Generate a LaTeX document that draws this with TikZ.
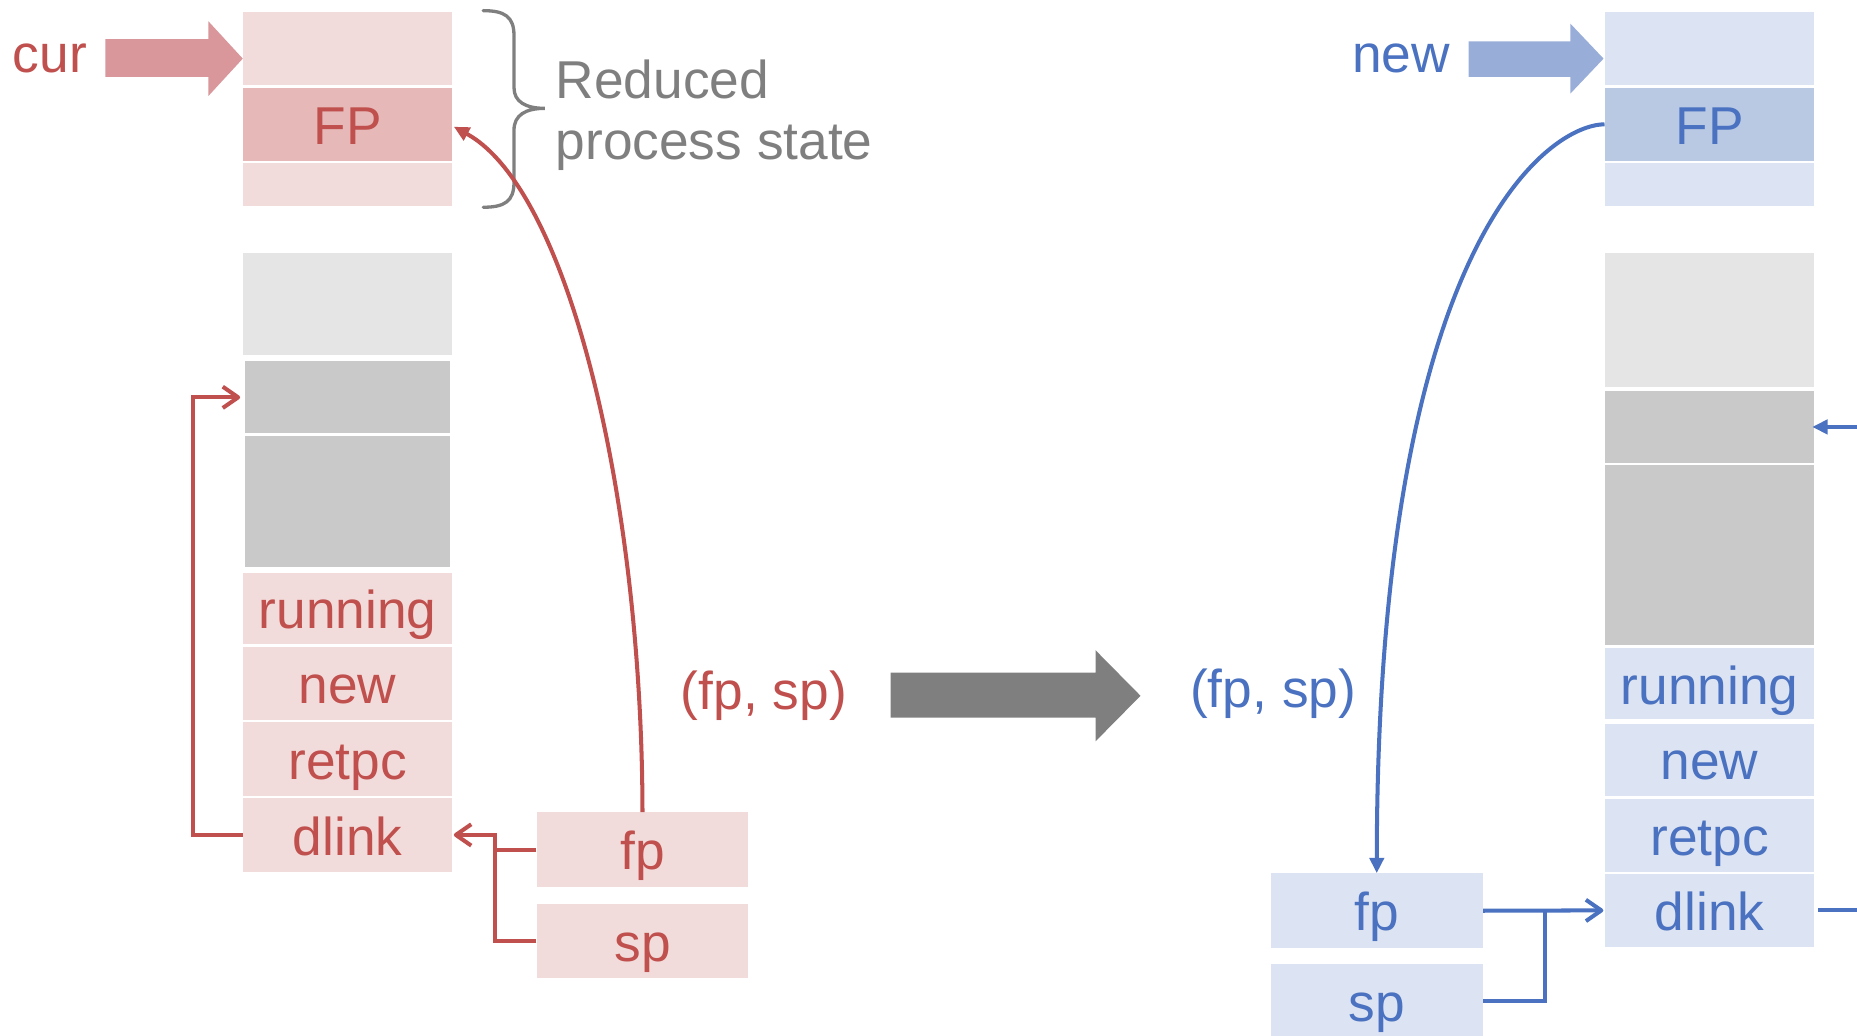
\documentclass[tikz,border=0pt]{standalone}
\usepackage{fontspec}
\setmainfont{Liberation Sans}
\usetikzlibrary{arrows.meta,calc}

\definecolor{redink}{HTML}{C0504D}
\definecolor{pinklt}{HTML}{F2DCDB}
\definecolor{pinkmd}{HTML}{E6B9B8}
\definecolor{pinkarrow}{HTML}{D9969B}
\definecolor{blueink}{HTML}{4A72C0}
\definecolor{bluelt}{HTML}{DCE3F2}
\definecolor{bluemd}{HTML}{B9C9E4}
\definecolor{bluearrow}{HTML}{98AED9}
\definecolor{graylt}{HTML}{E5E5E5}
\definecolor{graydk}{HTML}{C9C9C9}
\definecolor{grayink}{HTML}{7F7F7F}

\begin{document}
\begin{tikzpicture}[x=1pt,y=-1pt,
  txt/.style={font=\fontsize{45}{54}\selectfont, inner sep=0pt},
  cell/.style={txt, rectangle, minimum width=177pt, text height=44pt, text depth=10pt},
  blank/.style={text height=0pt, text depth=0pt},
  redcell/.style={cell, fill=pinklt, text=redink},
  bluecell/.style={cell, fill=bluelt, text=blueink},
  redline/.style={draw=redink, line width=3.4pt},
  blueline/.style={draw=blueink, line width=3.4pt},
  barbtip/.style={-{Straight Barb[length=13pt,width=18pt,line join=round]}},
  headtip/.style={-{Triangle[length=13pt,width=12pt]}}
]
\useasboundingbox (0,0) rectangle (1568,874);
\clip (0,0) rectangle (1568,874);

% ---------- current process (left) ----------
\node[redcell, blank, minimum height=62pt] (lA) at (293.5,41) {};
\node[redcell, fill=pinkmd, minimum height=62pt] (lFP) at (293.5,105) {FP};
\node[redcell, blank, minimum height=36pt] (lB) at (293.5,156) {};
\node[cell, blank, fill=graylt, minimum height=86pt] (lG1) at (293.5,257) {};
\node[cell, blank, fill=graydk, minimum width=173pt, minimum height=61pt] (lG2) at (293.5,335.5) {};
\node[cell, blank, fill=graydk, minimum width=173pt, minimum height=111pt] (lG3) at (293.5,423.5) {};
\node[redcell, minimum height=60pt] (lRun) at (293.5,514) {running};
\node[redcell, minimum height=62pt] (lNew) at (293.5,577) {new};
\node[redcell, minimum height=62pt] (lRet) at (293.5,641) {retpc};
\node[redcell, minimum height=62pt] (lDl) at (293.5,705) {dlink};
\node[redcell, minimum width=179pt, minimum height=63pt] (lfp) at (542.5,717.5) {fp};
\node[redcell, minimum width=179pt, minimum height=63pt] (lsp) at (542.5,794.5) {sp};

% pointer arrow "cur"
\node[txt, text=redink, anchor=base] (curlbl) at (42,61) {cur};
\fill[pinkarrow] (89,33) -- (176,33) -- (176,18) -- (205,49.5) -- (176,81) -- (176,65) -- (89,65) -- cycle;

% brace and its label
\draw[grayink, line width=2.8pt, line cap=round]
  (408,9) .. controls (426,9) and (434,14) .. (434,30) -- (434,74)
  .. controls (434,86) and (444,91.5) .. (460,91.5)
  .. controls (444,91.5) and (434,97) .. (434,110) -- (434,154)
  .. controls (434,170) and (426,175) .. (408,175);
\node[txt, text=grayink, anchor=base west] (lblA) at (469,83) {Reduced};
\node[txt, text=grayink, anchor=base west] (lblB) at (469,134.5) {process state};

% links of the current frame
\draw[redline, headtip] (lfp.north) .. controls (542,420) and (480,160) .. ($(lFP.east)+(1,2)$);
\draw[redline, barbtip, shorten >=4pt] (lDl.west) -- ++(-42,0) |- (lG2.west);
\coordinate (ljoin) at ($(lfp.west)+(-35,0)$);
\draw[redline, barbtip, shorten >=1pt] (lfp.west) -- (ljoin) |- (lDl.east);
\draw[redline] (lsp.west) -| (ljoin);

\node[txt, text=redink, anchor=base] (lpair) at (645,599) {(fp, sp)};

% transition arrow
\fill[grayink] (752,568) -- (925,568) -- (925,549) -- (963,587.5) -- (925,626) -- (925,606) -- (752,606) -- cycle;

\node[txt, text=blueink, anchor=base] (rpair) at (1075,597) {(fp, sp)};

% ---------- new process (right) ----------
\node[bluecell, blank, minimum height=62pt] (rA) at (1443.5,41) {};
\node[bluecell, fill=bluemd, minimum height=62pt] (rFP) at (1443.5,105) {FP};
\node[bluecell, blank, minimum height=36pt] (rB) at (1443.5,156) {};
\node[cell, blank, fill=graylt, minimum height=113pt] (rG1) at (1443.5,270.5) {};
\node[cell, blank, fill=graydk, minimum height=61pt] (rG2) at (1443.5,360.5) {};
\node[cell, blank, fill=graydk, minimum height=152pt] (rG3) at (1443.5,469) {};
\node[bluecell, minimum height=60pt] (rRun) at (1443.5,577.5) {running};
\node[bluecell, minimum height=61pt] (rNew) at (1443.5,641.5) {new};
\node[bluecell, minimum height=61pt] (rRet) at (1443.5,705.5) {retpc};
\node[bluecell, minimum height=62pt] (rDl) at (1443.5,768.7) {dlink};
\node[bluecell, minimum width=179pt, minimum height=63pt] (rfp) at (1162.5,769) {fp};
\node[bluecell, minimum width=179pt, minimum height=63pt] (rsp) at (1162.5,845.5) {sp};

% pointer arrow "new"
\node[txt, text=blueink, anchor=base] (newlbl) at (1183,61) {new};
\fill[bluearrow] (1240,35) -- (1326,35) -- (1326,20) -- (1354,49.5) -- (1326,79) -- (1326,65) -- (1240,65) -- cycle;

% links of the new frame
\draw[blueline, headtip] (rFP.west) .. controls (1310,105) and (1163,200) .. (rfp.north);
\coordinate (rjoin) at ($(rfp.east)+(52,0)$);
\draw[blueline, barbtip, shorten >=1pt] (rfp.east) -- (rDl.west);
\draw[blueline] (rsp.east) -| (rjoin);
\coordinate (redgeA) at (1568,360.5);
\coordinate (redgeB) at (1568,768.7);
\draw[blueline, headtip, shorten >=-2pt] (redgeA) -- (rG2.east);
\draw[blueline, shorten <=3pt] (rDl.east) -- (redgeB);

\end{tikzpicture}
\end{document}
